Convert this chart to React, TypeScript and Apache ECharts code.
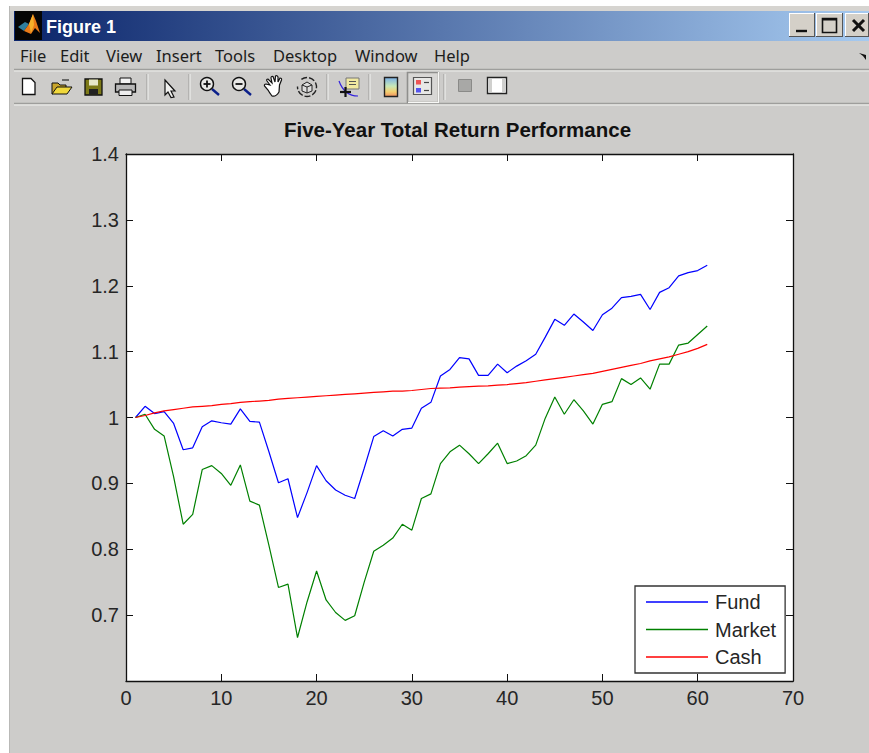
import React, { useEffect, useRef } from "react";
import * as echarts from "echarts";

const periods = Array.from({ length: 61 }, (_, i) => i + 1);
const fund = [1.0,1.017,1.006,1.009,0.991,0.951,0.954,0.986,0.995,0.992,0.99,1.013,0.994,0.993,0.948,0.901,0.907,0.848,0.886,0.927,0.904,0.89,0.882,0.877,0.923,0.971,0.98,0.972,0.982,0.984,1.014,1.023,1.063,1.073,1.091,1.089,1.064,1.064,1.081,1.068,1.078,1.086,1.096,1.122,1.149,1.14,1.157,1.145,1.132,1.156,1.166,1.182,1.184,1.187,1.164,1.19,1.197,1.215,1.22,1.223,1.231];
const market = [1.0,1.005,0.982,0.972,0.91,0.838,0.853,0.921,0.927,0.915,0.897,0.928,0.873,0.867,0.806,0.742,0.747,0.666,0.72,0.767,0.723,0.704,0.692,0.699,0.75,0.797,0.806,0.817,0.838,0.829,0.877,0.884,0.93,0.948,0.958,0.945,0.93,0.945,0.961,0.93,0.934,0.942,0.958,0.999,1.031,1.005,1.027,1.01,0.99,1.02,1.024,1.059,1.05,1.06,1.043,1.081,1.081,1.11,1.113,1.126,1.139];
const cash = [1.0,1.003,1.007,1.01,1.012,1.014,1.016,1.017,1.018,1.02,1.021,1.023,1.024,1.025,1.026,1.028,1.029,1.03,1.031,1.032,1.033,1.034,1.035,1.036,1.037,1.038,1.039,1.04,1.04,1.041,1.0425,1.044,1.0445,1.045,1.046,1.047,1.0475,1.048,1.049,1.05,1.0515,1.053,1.055,1.057,1.059,1.061,1.063,1.065,1.067,1.07,1.073,1.076,1.079,1.082,1.086,1.089,1.092,1.096,1.1,1.105,1.111];
const seriesNames = ["Fund", "Market", "Cash"];
const chartTitle = "Five-Year Total Return Performance";
const windowTitle = "Figure 1";
const menuLabels = ["File", "Edit", "View", "Insert", "Tools", "Desktop", "Window", "Help"];
const menuLefts = [20, 60, 106, 156, 215, 273, 355, 434];

const HAND = "M270 85 L267 81 Q266 79 268 79 L272 83 L271 78 Q271 76 273 76.500 L275 82 L275.500 76 Q277 75 278 77 L278 82 L280 78 Q282 78 281.500 80 L279.500 85 L279 92 Q276 97 272 96 Q269 92 268 90 L264.500 86 Q264 84 266 84 Z";
echarts.graphic.registerShape("handIcon", echarts.graphic.extendPath(HAND, {}));

const K = "#111";
const rect = (x: number, y: number, w: number, h: number, fill: any, stroke?: string, lw = 1) => ({
  type: "rect", shape: { x, y, width: w, height: h }, style: { fill, stroke: stroke || undefined, lineWidth: lw },
});
const line = (x1: number, y1: number, x2: number, y2: number, stroke: string, lw = 1) => ({
  type: "line", shape: { x1, y1, x2, y2 }, style: { stroke, lineWidth: lw },
});
const poly = (points: number[][], fill: string, stroke?: string, lw = 1) => ({
  type: "polygon", shape: { points }, style: { fill, stroke: stroke || undefined, lineWidth: lw },
});
const sep = (x: number) => [line(x, 74, x, 100, "#9a9a98", 1), line(x + 1, 74, x + 1, 100, "#f4f4f2", 1)];
const lens = (cx: number, cy: number, plus: boolean) => [
  line(cx + 5, cy + 5, cx + 12, cy + 11, "#0b1f8a", 2.4),
  { type: "circle", shape: { cx, cy, r: 6.5 }, style: { fill: "#e8e8e6", stroke: K, lineWidth: 1.4 } },
  line(cx - 3.5, cy, cx + 3.5, cy, K, 1.8),
  ...(plus ? [line(cx, cy - 3.5, cx, cy + 3.5, K, 1.8)] : []),
];

function chromeElements() {
  const titleFill = new echarts.graphic.LinearGradient(0, 0, 1, 0, [
    { offset: 0, color: "#0a246a" },
    { offset: 1, color: "#a6caf0" },
  ]);
  const winBtn = (x: number, w: number) => [
    rect(x, 13, w, 24, "#d4d0c8"),
    line(x, 13.5, x + w, 13.5, "#fff"),
    line(x + 0.5, 13, x + 0.5, 37, "#fff"),
    line(x, 36.5, x + w, 36.5, "#555"),
    line(x + w - 0.5, 13, x + w - 0.5, 37, "#555"),
  ];
  return [
    rect(0, 0, 869, 6, "#ffffff"),
    rect(0, 0, 9, 753, "#ffffff"),
    rect(9, 6, 860, 5, "#d6d4d0"),
    rect(14, 11, 855, 30, titleFill),
    line(9.5, 6, 9.5, 753, "#b9b9b7"),
    // logo
    rect(15, 11, 27, 29, "#050505"),
    poly([[18, 27], [25, 22], [29, 24], [24, 31]], "#2f7f9f"),
    poly([[24, 31], [29, 24], [33, 14], [36, 21], [40, 33], [35, 28], [31, 34]], "#e87a18"),
    poly([[29, 24], [33, 14], [34, 25], [31, 33]], "#f4b02a"),
    { type: "text", style: { text: windowTitle, x: 46, y: 26.5, fill: "#fff", font: "bold 18px 'Liberation Sans'", textVerticalAlign: "middle" } },
    // window buttons
    ...winBtn(789, 26), ...winBtn(816, 27), ...winBtn(845, 24),
    line(796, 31, 807, 31, K, 2.4),
    rect(822.5, 18.5, 14, 14, "none", K, 1.6), line(822, 19.5, 837, 19.5, K, 2),
    line(853, 20, 864, 31, K, 3), line(864, 20, 853, 31, K, 3),
    // menu
    ...menuLabels.map((text, i) => ({
      type: "text",
      style: { text, x: menuLefts[i], y: 55, fill: "#1c1c1c", font: "16.5px 'Noto Sans'", textVerticalAlign: "middle" },
    })),
    poly([[859, 53], [866, 55], [866, 60], [863, 56]], K),
    line(14, 69.5, 869, 69.5, "#9e9e9c", 1.4), line(14, 71, 869, 71, "#eeeeec", 1),
    line(14, 103.5, 869, 103.5, "#9e9e9c", 1.4), line(14, 105, 869, 105, "#f2f2f0", 1),
    // new, open, save, print
    poly([[22.5, 78.5], [31, 78.500], [35, 82.5], [35, 94.5], [22.5, 94.5]], "#fff", K, 1.3),
    poly([[52, 94], [52, 83], [58, 83], [60, 85], [66, 85], [66, 88]], "#c9a52a", K, 1),
    poly([[52, 94], [57, 87], [72, 87], [67, 94]], "#f0d83c", K, 1),
    line(62, 80, 69, 80, "#333", 1.3),
    rect(85, 79, 17, 16, "#7d7a18", K, 1.3), rect(89, 79.5, 9, 6, "#e8e8c8"), rect(89, 89, 9, 5.5, "#222"),
    rect(120, 78, 11, 6, "#f2f2f2", K, 1), rect(115.5, 84, 20, 8, "#b8b8b8", K, 1.3), rect(119, 90, 13, 5.5, "#eee", K, 1),
    ...sep(147),
    // pointer
    poly([[165, 80], [175, 91], [171, 91], [174, 97], [171, 97.5], [168, 92], [165, 95]], "#f0f0ee", K, 1.2),
    ...sep(189),
    ...lens(207, 84, true), ...lens(239, 84, false),
    { type: "handIcon", style: { fill: "#fff", stroke: K, lineWidth: 1.2 } },
    // rotate
    { type: "arc", shape: { cx: 307, cy: 87, r: 9.5, startAngle: -2.2, endAngle: 3.2 }, style: { stroke: "#222", lineWidth: 1.4, fill: "none", lineDash: [6, 2] } },
    poly([[302, 85], [307, 82], [312, 85], [312, 91], [307, 93], [302, 91]], "#ddd", "#222", 1),
    line(307, 87, 307, 93, "#222"), line(302, 85, 307, 87, "#222"), line(312, 85, 307, 87, "#222"),
    ...sep(327),
    // data cursor
    { type: "bezierCurve", shape: { x1: 339, y1: 81, cpx1: 343, cpy1: 92, cpx2: 350, cpy2: 96, x2: 358, y2: 96 }, style: { stroke: "#3322dd", lineWidth: 1.2, fill: "none" } },
    rect(346, 78, 13, 11, "#f0e8a0", "#777", 1), line(349, 81.5, 356, 81.5, "#555"), line(349, 84.5, 356, 84.5, "#555"),
    line(340, 92, 351, 92, K, 2.2), line(345.5, 87, 345.5, 97, K, 2.2),
    ...sep(369),
    // colorbar
    rect(384.5, 77.5, 13, 19, new echarts.graphic.LinearGradient(0, 0, 0, 1, [
      { offset: 0, color: "#7ab0e8" }, { offset: 0.45, color: "#c8e8b8" }, { offset: 0.75, color: "#f4d070" }, { offset: 1, color: "#f09060" },
    ]), "#222", 1.4),
    // legend button, pressed
    rect(407.500, 72.5, 31, 30, "#d8d7d5", "#8f8f8d", 1.6),
    line(408, 102.5, 439, 102.5, "#f8f8f6", 1.2), line(438.5, 72, 438.5, 103, "#f8f8f6", 1.2),
    rect(413.5, 77.5, 18, 17, "#e8e8e6", "#555", 1.2),
    rect(416, 80, 5, 4.500, "#ee5555"), rect(416, 88, 5, 4.5, "#5555ee"),
    line(424, 82.5, 429, 82.5, "#444", 1.2), line(424, 90.5, 429, 90.5, "#444", 1.2),
    ...sep(444),
    rect(458.5, 79.5, 13, 12, "#a8a8a6", "#8a8a88", 1),
    rect(487.5, 77.5, 19, 16, "#fff", "#222", 1.4), rect(489, 79, 3, 13, "#d0d0ce"), rect(502, 79, 3, 13, "#d0d0ce"),
  ];
}

export default function App() {
  const ref = useRef<HTMLDivElement>(null);
  useEffect(() => {
    const chart = echarts.init(ref.current!, undefined, { renderer: "svg" });
    const labelStyle = { color: "#262626", fontSize: 20, fontFamily: "'Liberation Sans'" };
    const tick = { show: true, inside: true, length: 7, lineStyle: { color: "#111", width: 1 } };
    const axisLine = { show: true, onZero: false, lineStyle: { color: "#111", width: 1.3 } };
    const xBase = { type: "value", min: 0, max: 70, interval: 10, splitLine: { show: false }, axisLine, axisTick: tick };
    const yBase = { type: "value", min: 0.6, max: 1.4, interval: 0.1, splitLine: { show: false }, axisLine, axisTick: tick };
    const mk = (name: string, values: number[], color: string) => ({
      name, type: "line", xAxisIndex: 0, yAxisIndex: 0, showSymbol: false, symbol: "none", smooth: false,
      data: values.map((v, i) => [periods[i], v]),
      lineStyle: { color, width: 1.2 }, itemStyle: { color },
    });
    chart.setOption({
      animation: false,
      backgroundColor: "#cdccca",
      textStyle: { fontFamily: "'Liberation Sans'" },
      title: {
        text: chartTitle, left: 452.5, top: 113, textAlign: "center",
        textStyle: { fontSize: 20.5, fontWeight: "bold", color: "#111", fontFamily: "'Liberation Sans'", lineHeight: 22 },
      },
      grid: { left: 126, top: 154, width: 667, height: 527, show: true, backgroundColor: "#fff", borderWidth: 0 },
      xAxis: [
        { ...xBase, position: "bottom", axisLabel: { ...labelStyle, margin: 7 } },
        { ...xBase, position: "top", axisLabel: { show: false } },
      ],
      yAxis: [
        {
          ...yBase, position: "left",
          axisLabel: { ...labelStyle, margin: 7, formatter: (v: number) => (Math.abs(v - 0.6) < 1e-6 ? "" : String(+v.toFixed(1))) },
        },
        { ...yBase, position: "right", axisLabel: { show: false } },
      ],
      legend: {
        left: 635, top: 586, orient: "vertical", data: seriesNames, icon: "rect",
        padding: [6, 9, 6, 11], itemWidth: 62, itemHeight: 1.4, itemGap: 7.5,
        textStyle: { ...labelStyle, lineHeight: 20, padding: [0, 0, 0, 2] },
        backgroundColor: "#fff", borderColor: "#333", borderWidth: 1.3, borderRadius: 0,
      },
      series: [mk("Fund", fund, "#0000ff"), mk("Market", market, "#008000"), mk("Cash", cash, "#ff0000")],
      graphic: { elements: chromeElements() },
    });
    return () => chart.dispose();
  }, []);
  return <div ref={ref} style={{ position: "absolute", left: 0, top: 0, width: 869, height: 753 }} />;
}
